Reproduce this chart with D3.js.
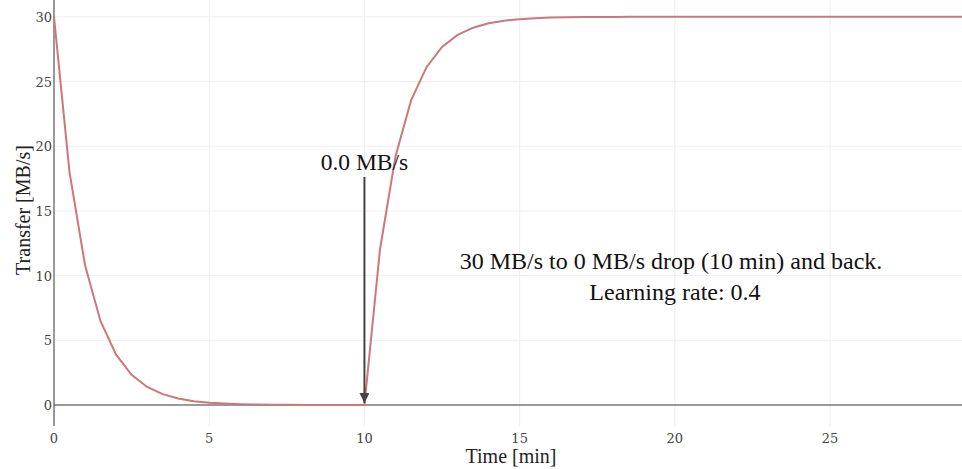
<!DOCTYPE html>
<html>
<head>
<meta charset="utf-8">
<script src="https://cdn.jsdelivr.net/npm/d3@7"></script>
<style>
  body { margin: 0; background: #fff; }
  svg { display: block; }
</style>
</head>
<body>
<svg id="chart" width="962" height="469"></svg>
<script>
// time in minutes, sampled every half minute
var times = [0, 0.5, 1, 1.5, 2, 2.5, 3, 3.5, 4, 4.5, 5, 5.5, 6, 6.5, 7, 7.5, 8, 8.5, 9, 9.5,
  10, 10.5, 11, 11.5, 12, 12.5, 13, 13.5, 14, 14.5, 15, 15.5, 16, 16.5, 17, 17.5, 18, 18.5, 19, 19.5,
  20, 20.5, 21, 21.5, 22, 22.5, 23, 23.5, 24, 24.5, 25, 25.5, 26, 26.5, 27, 27.5, 28, 28.5, 29, 29.5];
// transfer rate in MB/s
var transfer = [30, 18, 10.8, 6.48, 3.89, 2.33, 1.4, 0.84, 0.5, 0.3, 0.18, 0.11, 0.065, 0.04, 0.024, 0.014, 0.008, 0.005, 0.003, 0.002,
  0.001, 12, 19.2, 23.52, 26.11, 27.67, 28.6, 29.16, 29.5, 29.7, 29.82, 29.89, 29.94, 29.96, 29.98, 29.99, 29.99, 30, 30, 30,
  30, 30, 30, 30, 30, 30, 30, 30, 30, 30, 30, 30, 30, 30, 30, 30, 30, 30, 30, 30];
var xTicks = [0, 5, 10, 15, 20, 25];
var yTicks = [0, 5, 10, 15, 20, 25, 30];
var arrowAt = [10, 0.0];
var notes = ["30 MB/s to 0 MB/s drop (10 min) and back.", "Learning rate: 0.4"];

var svg = d3.select("#chart");
var x = d3.scaleLinear().domain([0, 29.25]).range([54, 962]);
var y = d3.scaleLinear().domain([-1.62, 31.3]).range([426, 0]);

//grid
svg.append("g").selectAll("line").data(xTicks.slice(1)).enter().append("line")
  .attr("x1", function(d){ return x(d); }).attr("x2", function(d){ return x(d); })
  .attr("y1", 0).attr("y2", 426).attr("stroke", "#eee").attr("stroke-width", 1);
svg.append("g").selectAll("line").data(yTicks.slice(1)).enter().append("line")
  .attr("x1", 54).attr("x2", 962)
  .attr("y1", function(d){ return y(d); }).attr("y2", function(d){ return y(d); })
  .attr("stroke", "#eee").attr("stroke-width", 1);

//zero line and y axis line
svg.append("line").attr("x1", 54).attr("x2", 962).attr("y1", y(0)).attr("y2", y(0))
  .attr("stroke", "#777").attr("stroke-width", 1.5);
svg.append("line").attr("x1", x(0)).attr("x2", x(0)).attr("y1", 0).attr("y2", 426)
  .attr("stroke", "#777").attr("stroke-width", 1.5);

//tick labels
svg.append("g").selectAll("text").data(yTicks).enter().append("text")
  .attr("x", 52).attr("y", function(d){ return y(d) + 5; })
  .attr("text-anchor", "end").attr("font-family", "DejaVu Serif").attr("font-size", 13)
  .attr("fill", "#444").text(function(d){ return d; });
svg.append("g").selectAll("text").data(xTicks).enter().append("text")
  .attr("x", function(d){ return x(d); }).attr("y", 443)
  .attr("text-anchor", "middle").attr("font-family", "DejaVu Serif").attr("font-size", 13)
  .attr("fill", "#444").text(function(d){ return d; });

//axis titles
svg.append("text").attr("x", 511).attr("y", 463).attr("text-anchor", "middle")
  .attr("font-family", "Liberation Serif").attr("font-size", 20).attr("fill", "#222").text("Time [min]");
svg.append("text").attr("transform", "translate(30,210) rotate(-90)").attr("text-anchor", "middle")
  .attr("font-family", "Liberation Serif").attr("font-size", 20).attr("fill", "#222").text("Transfer [MB/s]");

//line
var line = d3.line().x(function(d, i){ return x(times[i]); }).y(function(d){ return y(d); });
svg.append("path").datum(transfer).attr("d", line).attr("fill", "none")
  .attr("stroke", "#cd7878").attr("stroke-width", 2);

//arrow annotation
svg.append("defs").append("marker").attr("id", "head").attr("viewBox", "0 0 10 10")
  .attr("refX", 10).attr("refY", 5).attr("markerWidth", 5).attr("markerHeight", 5)
  .attr("orient", "auto").append("path").attr("d", "M0,0L10,5L0,10z").attr("fill", "#444");
svg.append("line").attr("x1", x(arrowAt[0])).attr("x2", x(arrowAt[0]))
  .attr("y1", 177).attr("y2", y(arrowAt[1]) - 2)
  .attr("stroke", "#444").attr("stroke-width", 2).attr("marker-end", "url(#head)");
svg.append("text").attr("x", x(arrowAt[0])).attr("y", 170).attr("text-anchor", "middle")
  .attr("font-family", "Liberation Serif").attr("font-size", 23.5).attr("fill", "#111")
  .text(arrowAt[1].toFixed(1) + " MB/s");

//caption
svg.append("g").selectAll("text").data(notes).enter().append("text")
  .attr("x", function(d, i){ return 671 + i * 4; }).attr("y", function(d, i){ return 269 + i * 31; })
  .attr("text-anchor", "middle")
  .attr("font-family", "Liberation Serif").attr("font-size", 24).attr("fill", "#111")
  .text(function(d){ return d; });
</script>
</body>
</html>
